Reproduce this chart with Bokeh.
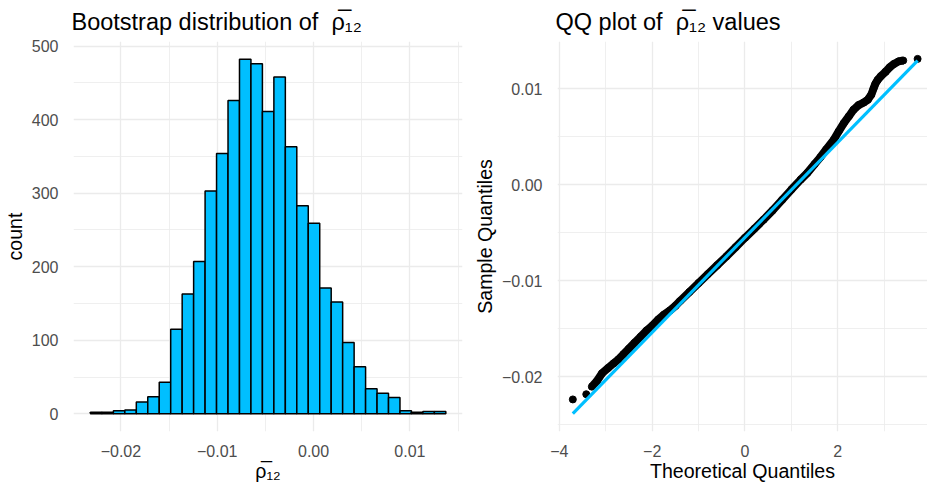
from bokeh.plotting import figure
from bokeh.layouts import row
from bokeh.models import FixedTicker
from bokeh.embed import file_html
from bokeh.resources import INLINE

# ---------------- data ----------------
# histogram of bootstrap rho-bar_12 (31 bins)
hist_start = -0.02316
bin_width = 0.00119
bin_counts = [2, 2, 4, 5, 16, 23, 43, 115, 163, 207, 303, 354, 426, 482, 476,
              411, 458, 363, 283, 259, 171, 152, 97, 64, 34, 28, 22, 4, 2, 3, 3]

hist_x_ticks = [-0.02, -0.01, 0.0, 0.01]
hist_x_labels = ["\u22120.02", "\u22120.01", "0.00", "0.01"]
hist_x_minor = [-0.025, -0.015, -0.005, 0.005, 0.015]
hist_y_ticks = [0, 100, 200, 300, 400, 500]
hist_y_minor = [50, 150, 250, 350, 450]

# QQ plot: theoretical vs sample quantiles
qq_theo = [-3.71, -3.42, -3.30, -3.19, -3.08, -2.95, -2.83, -2.73, -2.62, -2.50,
           -2.38, -2.25, -2.12, -2.00, -1.87, -1.75, -1.62, -1.50, -1.40, -1.20,
           -1.00, -0.80, -0.60, -0.40, -0.20, 0.00, 0.20, 0.40, 0.60, 0.80,
           1.00, 1.20, 1.34, 1.50, 1.62, 1.75, 1.91, 2.02, 2.13, 2.24,
           2.34, 2.45, 2.56, 2.65, 2.72, 2.77, 2.81, 2.86, 2.93, 3.03,
           3.12, 3.21, 3.31, 3.41, 3.72]
qq_sample = [-0.02237, -0.02183, -0.02104, -0.02045, -0.01965, -0.01910, -0.01861, -0.01821, -0.01767, -0.01708,
             -0.01648, -0.01584, -0.01519, -0.01470, -0.01406, -0.01356, -0.01312, -0.01263, -0.01213, -0.01119,
             -0.01025, -0.00932, -0.00840, -0.00748, -0.00651, -0.00554, -0.00460, -0.00366, -0.00266, -0.00159,
             -0.00052, 0.00052, 0.00120, 0.00213, 0.00282, 0.00366, 0.00465, 0.00555, 0.00640, 0.00712,
             0.00780, 0.00828, 0.00855, 0.00885, 0.00935, 0.01000, 0.01050, 0.01090, 0.01130, 0.01175,
             0.01222, 0.01256, 0.01283, 0.01292, 0.01309]
qq_line_x = [-3.71, 3.72]
qq_line_y = [-0.02386, 0.01291]

qq_x_ticks = [-4, -2, 0, 2, 4]
qq_x_labels = ["\u22124", "\u22122", "0", "2", "4"]
qq_x_minor = [-3, -1, 1, 3]
qq_y_ticks = [-0.02, -0.01, 0.0, 0.01]
qq_y_labels = ["\u22120.02", "\u22120.01", "0.00", "0.01"]
qq_y_minor = [-0.025, -0.015, -0.005, 0.005, 0.015]

RHO = "\u03c1\u0305\u2081\u2082"
SP = "\u00a0\u00a0"
FONT = "Liberation Sans"
BLUE = "#00BFFF"
GRID = "#EBEBEB"
TICK_COL = "#4D4D4D"


def style(p, xt, xl, xm, yt, yl, ym):
    p.outline_line_color = None
    p.background_fill_color = "white"
    p.border_fill_color = "white"
    p.xaxis.ticker = FixedTicker(ticks=xt, minor_ticks=xm)
    p.yaxis.ticker = FixedTicker(ticks=yt, minor_ticks=ym)
    if xl is not None:
        p.xaxis.major_label_overrides = {t: l for t, l in zip(xt, xl)}
    if yl is not None:
        p.yaxis.major_label_overrides = {t: l for t, l in zip(yt, yl)}
    for ax in (p.xaxis[0], p.yaxis[0]):
        ax.axis_line_color = None
        ax.major_tick_line_color = None
        ax.minor_tick_line_color = None
        ax.major_label_text_font = FONT
        ax.major_label_text_font_size = "16px"
        ax.major_label_text_color = TICK_COL
        ax.axis_label_text_font = FONT
        ax.axis_label_text_font_size = "19.6px"
        ax.axis_label_text_font_style = "normal"
        ax.axis_label_text_color = "black"
        ax.major_label_standoff = 9
        ax.axis_label_standoff = 3
    p.xaxis[0].major_label_standoff = 7
    p.xaxis[0].axis_label_standoff = 0
    for g in (p.xgrid[0], p.ygrid[0]):
        g.grid_line_color = GRID
        g.grid_line_width = 1.3
        g.minor_grid_line_color = GRID
        g.minor_grid_line_width = 0.8
    p.title.text_font = FONT
    p.title.text_font_size = "23.5px"
    p.title.text_font_style = "normal"
    p.title.text_color = "black"
    p.title.align = "left"
    p.title.offset = -2
    p.title.standoff = 13


# ---------------- left: histogram ----------------
left_edges = [hist_start + i * bin_width for i in range(len(bin_counts))]
right_edges = [e + bin_width for e in left_edges]

p1 = figure(width=470, height=484, output_backend="svg", toolbar_location=None,
            x_range=(-0.02492, 0.01546), y_range=(-24.1, 506.3),
            title="Bootstrap distribution of" + SP + RHO,
            min_border_left=70, min_border_right=8, min_border_top=40, min_border_bottom=53)
p1.quad(left=left_edges, right=right_edges, bottom=0, top=bin_counts,
        fill_color=BLUE, line_color="black", line_width=1.5)
style(p1, hist_x_ticks, hist_x_labels, hist_x_minor, hist_y_ticks, None, hist_y_minor)
p1.xaxis.axis_label = RHO
p1.yaxis.axis_label = "count"

# ---------------- right: QQ plot ----------------
p2 = figure(width=457, height=484, output_backend="svg", toolbar_location=None,
            x_range=(-4.04, 3.933), y_range=(-0.02571, 0.0149),
            title="QQ plot of" + SP + RHO + " values",
            min_border_left=87, min_border_right=0, min_border_top=40, min_border_bottom=51)
p2.line(qq_theo[2:-1], qq_sample[2:-1], line_color="black", line_width=8)
p2.scatter(qq_theo, qq_sample, size=7, fill_color="black", line_color="black")
p2.line(qq_line_x, qq_line_y, line_color=BLUE, line_width=3.2)
style(p2, qq_x_ticks, qq_x_labels, qq_x_minor, qq_y_ticks, qq_y_labels, qq_y_minor)
p2.xaxis.axis_label = "Theoretical Quantiles"
p2.yaxis.axis_label = "Sample Quantiles"

layout = row(p1, p2)
open("out.html", "w").write(file_html(layout, INLINE))
